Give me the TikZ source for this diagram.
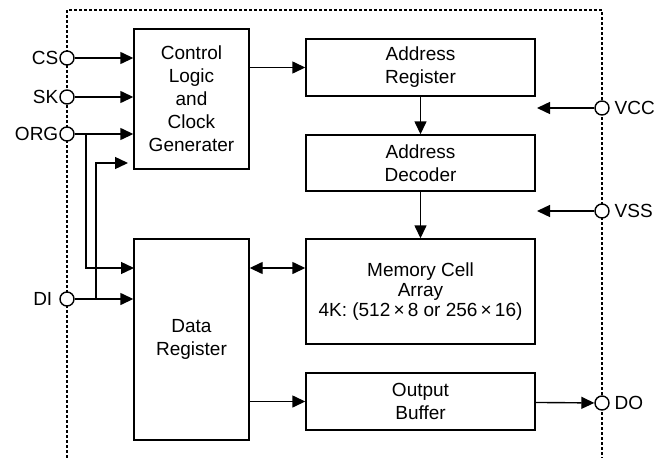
\documentclass[tikz,border=0pt]{standalone}
\usepackage{fontspec}
\setmainfont{Liberation Sans}
\usetikzlibrary{arrows.meta}

\begin{document}
\begin{tikzpicture}[x=1pt, y=-1pt, line width=1.4pt,
        >={Triangle[length=13pt,width=12pt]},
        block/.style={rectangle, draw, align=center, font=\fontsize{19}{23}\selectfont},
        pin/.style={circle, draw, fill=white, minimum size=14pt, inner sep=0pt},
        pinlabel/.style={font=\fontsize{19}{22}\selectfont}]
        \useasboundingbox (0,0) rectangle (659,458);
        % Frame
        \draw[dash pattern=on 3pt off 2pt, line width=1.2pt] (67,458) -- (67,10) -- (602,10) -- (602,458);
        % Nodes
        \node (ctrl) [block, minimum width=115pt, minimum height=140pt] at (191.5, 99) {Control\\Logic\\and\\Clock\\Generater};
        \node (areg) [block, minimum width=229pt, minimum height=57pt] at (420.5, 67.5) {Address\\Register};
        \node (adec) [block, minimum width=229pt, minimum height=56pt] at (420.5, 163) {Address\\Decoder};
        \node (mem) [block, minimum width=229pt, minimum height=105pt, font=\fontsize{19}{20}\selectfont] at (420.5, 291.5) {Memory Cell\\Array\\4K: (512\,×\,8 or 256\,×\,16)};
        \node (data) [block, minimum width=115pt, minimum height=201pt] at (191.5, 339.5) {Data\\Register};
        \node (obuf) [block, minimum width=229pt, minimum height=57pt] at (420.5, 401.5) {Output\\Buffer};
        \node (cs) [pin, label={[pinlabel, xshift=3pt]left:CS}] at (67, 58) {};
        \node (sk) [pin, label={[pinlabel, xshift=3pt]left:SK}] at (67, 97) {};
        \node (org) [pin, label={[pinlabel, xshift=3pt]left:ORG}] at (67, 134) {};
        \node (di) [pin, label={[pinlabel, xshift=-3pt]left:DI}] at (67, 299) {};
        \node (vcc) [pin, label={[pinlabel, xshift=1pt]right:VCC}] at (602, 108) {};
        \node (vss) [pin, label={[pinlabel, xshift=1pt]right:VSS}] at (602, 211) {};
        \node (do) [pin, label={[pinlabel, xshift=1pt]right:DO}] at (602, 403) {};
        \coordinate (orgtap) at (86, 134);
        \coordinate (ditap) at (96, 299);
        \coordinate (ctrlin) at (128, 163);
        \coordinate (datain) at (134, 268);
        \coordinate (vccend) at (537, 108);
        \coordinate (vssend) at (537, 211);
        % Arrow
        \draw[->] (cs) -- (cs -| ctrl.west);
        \draw[->] (sk) -- (sk -| ctrl.west);
        \draw[->] (org) -- (org -| ctrl.west);
        \draw[->] (orgtap) |- (datain);
        \draw[->] (di) -- (di -| data.west);
        \draw[->] (ditap) |- (ctrlin);
        \draw[->] (ctrl.east |- areg) -- (areg.west);
        \draw[->] (areg) -- (adec);
        \draw[->] (adec) -- (mem);
        \draw[->] (vcc) -- (vccend);
        \draw[->] (vss) -- (vssend);
        \draw[<->] (data.east |- datain) -- (mem.west |- datain);
        \draw[->] (data.east |- obuf) -- (obuf.west);
        \draw[->] (obuf) -- (do);
\end{tikzpicture}
\end{document}
